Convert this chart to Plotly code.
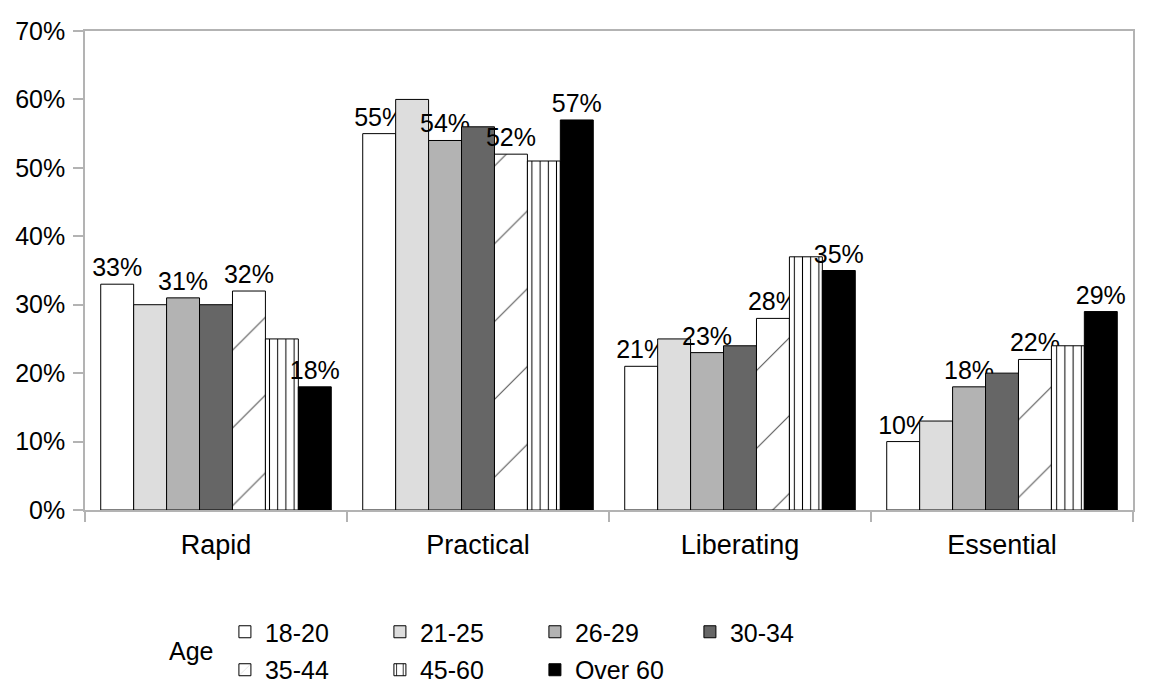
import plotly.graph_objects as go

categories = ["Rapid", "Practical", "Liberating", "Essential"]
series_names = ["18-20", "21-25", "26-29", "30-34", "35-44", "45-60", "Over 60"]
values = {
    "18-20":   [33, 55, 21, 10],
    "21-25":   [30, 60, 25, 13],
    "26-29":   [31, 54, 23, 18],
    "30-34":   [30, 56, 24, 20],
    "35-44":   [32, 52, 28, 22],
    "45-60":   [25, 51, 37, 24],
    "Over 60": [18, 57, 35, 29],
}
labeled = ["18-20", "26-29", "35-44", "Over 60"]
y_ticks = [0, 0.1, 0.2, 0.3, 0.4, 0.5, 0.6, 0.7]

colors = {
    "18-20": "#ffffff", "21-25": "#dddddd", "26-29": "#b3b3b3", "30-34": "#666666",
    "35-44": "#ffffff", "45-60": "#ffffff", "Over 60": "#000000",
}
patterns = {
    "35-44": dict(shape="/", size=55, solidity=0.02, fgcolor="#555555", bgcolor="#ffffff", fillmode="replace"),
    "45-60": dict(shape="|", size=8.2, solidity=0.12, fgcolor="#000000", bgcolor="#ffffff", fillmode="replace"),
}
FONT = "Liberation Sans, Arial, sans-serif"

fig = go.Figure()
for i, name in enumerate(series_names):
    vals = [v / 100 for v in values[name]]
    has_text = name in labeled
    marker = dict(color=colors[name], line=dict(color="#000000", width=1))
    if name in patterns:
        marker["pattern"] = patterns[name]
    fig.add_trace(go.Bar(
        name=name,
        x=categories,
        y=vals,
        marker=marker,
        text=[f"{v}%" for v in values[name]] if has_text else None,
        textposition="outside" if has_text else "none",
        constraintext="none",
        cliponaxis=False,
        textfont=dict(size=25, color="#000000", family=FONT),
        legend="legend" if i < 4 else "legend2",
        hoverinfo="skip",
    ))

axis_gray = "#b3b3b3"
fig.update_layout(
    width=1158, height=688,
    margin=dict(l=77, r=33, t=23, b=186, autoexpand=False),
    paper_bgcolor="white", plot_bgcolor="white",
    font=dict(family=FONT, size=25, color="#000000"),
    barmode="group", bargap=0.12, bargroupgap=0,
    showlegend=True,
    legend=dict(orientation="h", x=0.1335, xanchor="left", y=-0.2547, yanchor="middle",
                entrywidth=110, entrywidthmode="pixels", font=dict(size=25, family=FONT),
                traceorder="normal", bgcolor="rgba(0,0,0,0)"),
    legend2=dict(orientation="h", x=0.1335, xanchor="left", y=-0.334, yanchor="middle",
                 entrywidth=110, entrywidthmode="pixels", font=dict(size=25, family=FONT),
                 traceorder="normal", bgcolor="rgba(0,0,0,0)"),
    annotations=[dict(text="Age", x=0.101, y=-0.2944, xref="paper", yref="paper",
                      showarrow=False, xanchor="center", yanchor="middle",
                      font=dict(size=25, family=FONT, color="#000000"))],
)
fig.update_xaxes(
    showline=True, linecolor=axis_gray, linewidth=1.5, mirror=True, automargin=False,
    ticks="outside", tickson="boundaries", ticklen=10, tickcolor=axis_gray, tickwidth=1.5,
    showgrid=False, tickfont=dict(size=27, family=FONT), ticklabelstandoff=10,
)
fig.update_yaxes(
    range=[0, 0.7], tickvals=y_ticks, tickformat=".0%", automargin=False,
    showline=True, linecolor=axis_gray, linewidth=1.5, mirror=True,
    ticks="outside", ticklen=10, tickcolor=axis_gray, tickwidth=1.5,
    showgrid=False, zeroline=False, tickfont=dict(size=25, family=FONT), ticklabelstandoff=3,
)
fig.write_html("out.html")
